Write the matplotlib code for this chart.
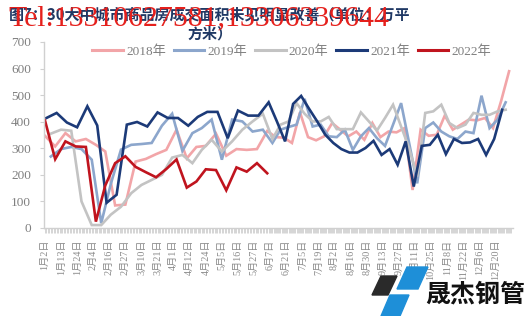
import re
import numpy as np
import matplotlib
matplotlib.use('Agg')
import matplotlib.pyplot as plt
from matplotlib.patches import Polygon
from matplotlib.ticker import FixedLocator, NullFormatter

# ---------------- data ----------------
tick_labels = ['1月2日', '1月13日', '1月24日', '2月4日', '2月16日', '2月27日', '3月10日',
               '3月21日', '4月1日', '4月12日', '4月24日', '5月5日', '5月16日', '5月27日',
               '6月7日', '6月21日', '7月5日', '7月19日', '8月2日', '8月16日', '8月30日',
               '9月13日', '9月27日', '10月11日', '10月25日', '11月8日', '11月22日',
               '12月6日', '12月20日']

years = ['2018年', '2019年', '2020年', '2021年', '2022年']
# day of year of the first weekly reading of each series (weekly data)
start_days = [2, 6, 6, 3, 2]

v2018 = [347, 307, 357, 326, 335, 313, 288, 85, 88, 250, 260, 278, 294, 370, 262, 305,
         309, 355, 272, 297, 294, 297, 365, 342, 340, 320, 435, 342, 330, 345, 395, 370,
         345, 363, 332, 395, 342, 363, 360, 376, 143, 370, 347, 351, 423, 370, 389, 408,
         405, 414, 376, 477, 590]
v2019 = [269, 297, 305, 297, 257, 18, 165, 295, 313, 316, 320, 385, 430, 290, 357, 376,
         408, 257, 408, 401, 363, 370, 320, 370, 380, 389, 486, 382, 389, 345, 342, 370,
         294, 345, 376, 338, 309, 389, 470, 320, 168, 376, 397, 363, 345, 335, 363, 357,
         498, 376, 408, 473]
v2020 = [355, 370, 366, 100, 11, 11, 50, 80, 131, 162, 181, 200, 265, 275, 244, 294,
         332, 288, 326, 370, 401, 430, 335, 389, 401, 470, 430, 401, 401, 418, 372, 372,
         372, 435, 401, 367, 414, 464, 382, 300, 194, 433, 439, 464, 395, 376, 389, 433,
         426, 426, 439, 445]
v2021 = [414, 433, 397, 379, 458, 386, 95, 125, 389, 399, 382, 435, 414, 414, 385, 418,
         437, 437, 338, 442, 423, 423, 473, 400, 326, 467, 497, 448, 401, 351, 320, 297,
         284, 284, 301, 328, 275, 297, 238, 326, 156, 309, 313, 351, 278, 335, 320, 322,
         335, 275, 335, 445]
v2022 = [405, 259, 326, 307, 305, 24, 160, 244, 270, 230, 210, 191, 222, 258, 152, 175,
         221, 218, 142, 228, 212, 244, 206]

series = [v2018, v2019, v2020, v2021, v2022]
colors = ['#F2A5A8', '#8CA6CC', '#C3C3C3', '#1C3A78', '#C0141E']

# ---------------- axis mapping (labels are evenly spaced on the axis) ----------------
cum = [0, 31, 59, 90, 120, 151, 181, 212, 243, 273, 304, 334]
def doy(lbl):
    m, d = re.match(r'(\d+)月(\d+)日', lbl).groups()
    return cum[int(m) - 1] + int(d)

label_days = np.array([doy(t) for t in tick_labels], dtype=float)
anchor_days = np.append(label_days, [label_days[-1] + 14, label_days[-1] + 28])
anchor_pos = np.arange(len(anchor_days), dtype=float)

def pos(days):
    return np.interp(days, anchor_days, anchor_pos)

# ---------------- figure ----------------
W, H = 528, 316
fig = plt.figure(figsize=(W / 100, H / 100), dpi=100)
ax = fig.add_axes([43.5 / W, (H - 228) / H, (513 - 43.5) / W, (228 - 42) / H])

serif = ['Liberation Serif', 'Noto Sans CJK SC']

for lab, vals, st, col in zip(years, series, start_days, colors):
    days = st + 7 * np.arange(len(vals))
    ax.plot(pos(days), vals, color=col, lw=1.9, label=lab, solid_joinstyle='miter')

ax.set_ylim(0, 700)
ax.set_xlim(-0.09, 29.1)
ax.set_yticks(np.arange(0, 701, 100))
for lbl in ax.get_yticklabels():
    lbl.set_family(serif)
ax.tick_params(axis='y', labelsize=9.5, labelcolor='#7F7F7F', color='#D0D0D0',
               length=3, width=0.8, pad=6)

ax.set_xticks(np.arange(len(tick_labels)))
ax.set_xticklabels(tick_labels, rotation=90, family=serif, fontsize=7.3, color='#8A8A8A')
ax.xaxis.set_minor_locator(FixedLocator(pos(np.arange(2, 369))))
ax.xaxis.set_minor_formatter(NullFormatter())
ax.tick_params(axis='x', which='both', color='#CFCFCF', length=3.5, width=0.6, pad=5)

for s in ['top', 'right']:
    ax.spines[s].set_visible(False)
for s in ['left', 'bottom']:
    ax.spines[s].set_color('#D0D0D0')
    ax.spines[s].set_linewidth(1.0)

leg = ax.legend(ncol=5, loc='center', bbox_to_anchor=(0.529, 0.95), frameon=False,
                handlelength=2.3, columnspacing=0.6, handletextpad=0.25,
                prop={'family': serif, 'size': 9.5})
for t in leg.get_texts():
    t.set_color('#7F7F7F')
for h in leg.legend_handles:
    h.set_linewidth(2.2)

# title and watermark
fig.text(210 / W, 1 - 24 / H, '图7：30大中城市商品房成交面积未见明显改善（单位：万平\n方米）',
         ha='center', va='center', multialignment='center', fontsize=10.8,
         fontweight='bold', color='#1F3864', family=['Noto Sans CJK SC', 'DejaVu Sans'],
         linespacing=1.2)
fig.text(8 / W, 1 - 18 / H, 'Tel:13310627581,13306339644', ha='left', va='center',
         fontsize=21.5, color='#E5201C', family='Liberation Serif', zorder=10)

# logo
def px(pts):
    return [(x / W, 1 - y / H) for x, y in pts]

fig.patches.append(Polygon(px([(372, 295), (381, 276), (397, 276), (388, 295)]),
                           closed=True, transform=fig.transFigure, color='#2A2A2A'))
fig.patches.append(Polygon(px([(397, 289), (407, 267), (428, 267), (418, 289)]),
                           closed=True, transform=fig.transFigure, color='#1E8FD8'))
fig.patches.append(Polygon(px([(381, 316), (390, 295), (409, 295), (400, 316)]),
                           closed=True, transform=fig.transFigure, color='#1E8FD8'))
fig.text(475 / W, 1 - 294 / H, '晟杰钢管', ha='center', va='center', fontsize=18,
         fontweight='heavy', color='#111111', family=['Noto Sans CJK SC'])

fig.savefig('out.png', dpi=100)
